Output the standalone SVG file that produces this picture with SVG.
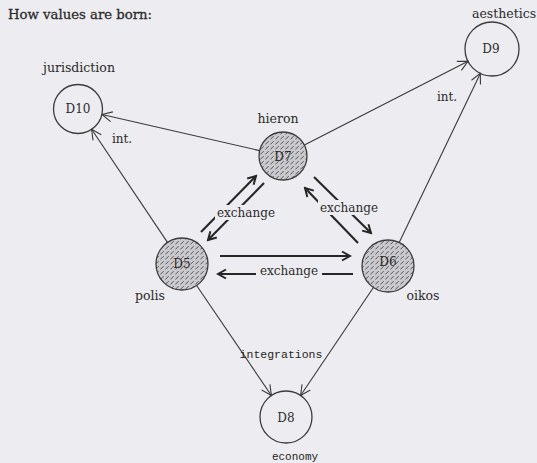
<svg xmlns="http://www.w3.org/2000/svg" width="537" height="463" viewBox="0 0 537 463">
  <defs>
    <style>
      .bg { fill: #edecf0; }
      .node { fill: none; stroke: #3c3c3c; stroke-width: 1.3; }
      .hatched { fill: url(#hatch); stroke: #3c3c3c; stroke-width: 1.3; }
      .link { fill: none; stroke: #3a3a3a; stroke-width: 1.1; marker-end: url(#open); }
      .xchg { fill: none; stroke: #262626; stroke-width: 2.1; marker-end: url(#bold); }
      .lbl-bg { fill: #edecf0; }
      text { font-family: "DejaVu Serif", "Liberation Serif", serif; fill: #2b2b2b; }
      .id { font-size: 12px; text-anchor: middle; }
      .name { font-size: 12.5px; text-anchor: middle; }
      .xl { font-size: 12px; text-anchor: middle; }
      .mono { font-family: "Liberation Mono", "DejaVu Sans Mono", monospace; text-anchor: middle; fill: #1f1f1f; }
    </style>
    <!-- short rising strokes used for the filled domains -->
    <pattern id="hatch" patternUnits="userSpaceOnUse" width="5" height="5">
      <rect width="5" height="5" fill="#cacace"/>
      <path d="M0.6,4.2 L3.4,1.4" stroke="#555" stroke-width="1" stroke-linecap="round"/>
    </pattern>
    <marker id="open" markerUnits="userSpaceOnUse" markerWidth="12" markerHeight="12" viewBox="0 0 12 12" refX="11" refY="6" orient="auto">
      <path d="M1,1 L11,6 L1,11" fill="none" stroke="#3a3a3a" stroke-width="1.1"/>
    </marker>
    <marker id="bold" markerUnits="userSpaceOnUse" markerWidth="12" markerHeight="12" viewBox="0 0 12 12" refX="10" refY="6" orient="auto">
      <path d="M2,1.5 L10,6 L2,10.5" fill="none" stroke="#262626" stroke-width="2"/>
    </marker>
  </defs>

  <rect class="bg" width="537" height="463"/>

  <text x="8" y="19" font-size="13" textLength="144" lengthAdjust="spacingAndGlyphs" stroke="#2b2b2b" stroke-width="0.3">How values are born:</text>

  <!-- connectors -->
  <g id="connectors">
    <path class="link" d="M259.6,150.6 L102,114.5"/>
    <path class="link" d="M304.4,145.1 L468,61.3"/>
    <path class="link" d="M399.2,242.5 L480.3,73.4"/>
    <path class="link" d="M167.5,242.4 L91.6,129.3"/>
    <path class="link" d="M196.6,285.5 L271.4,395.5"/>
    <path class="link" d="M373.4,287.5 L300.6,395.5"/>

    <path class="xchg" d="M201,232 L256,176"/>
    <path class="xchg" d="M264,183 L208,240"/>
    <path class="xchg" d="M314,177 L371,233"/>
    <path class="xchg" d="M358,243 L305,188"/>
    <path class="xchg" d="M220,256 L350,256"/>
    <path class="xchg" d="M353,274 L218,274"/>

    <rect class="lbl-bg" x="215" y="205" width="62" height="15"/>
    <text class="xl" x="246" y="217">exchange</text>
    <rect class="lbl-bg" x="318" y="200" width="62" height="15"/>
    <text class="xl" x="349" y="212">exchange</text>
    <rect class="lbl-bg" x="256" y="266" width="66" height="13"/>
    <text class="xl" x="289" y="275">exchange</text>

    <text class="xl" x="122" y="143">int.</text>
    <text class="xl" x="447" y="101">int.</text>
    <text class="mono" x="281" y="358" font-size="11.5">integrations</text>
  </g>

  <g id="D10">
    <circle class="node" cx="78" cy="109" r="24.5"/>
    <text class="id" x="78" y="113">D10</text>
    <text class="name" x="79" y="72" font-size="11.5">jurisdiction</text>
  </g>

  <g id="D9">
    <circle class="node" cx="492" cy="49" r="27"/>
    <text class="id" x="491" y="53">D9</text>
    <text x="472" y="18" font-size="12.5">aesthetics</text>
  </g>

  <g id="D7">
    <circle class="hatched" cx="283" cy="156" r="24"/>
    <text class="id" x="283" y="161">D7</text>
    <text class="name" x="278" y="123">hieron</text>
  </g>

  <g id="D5">
    <circle class="hatched" cx="182" cy="264" r="26"/>
    <text class="id" x="182" y="268">D5</text>
    <text class="name" x="150" y="300">polis</text>
  </g>

  <g id="D6">
    <circle class="hatched" cx="388" cy="266" r="26"/>
    <text class="id" x="388" y="266">D6</text>
    <text class="name" x="423" y="300">oikos</text>
  </g>

  <g id="D8">
    <circle class="node" cx="286" cy="417" r="26"/>
    <text class="id" x="286" y="422">D8</text>
    <text class="mono" x="295" y="460" font-size="11">economy</text>
  </g>
</svg>
